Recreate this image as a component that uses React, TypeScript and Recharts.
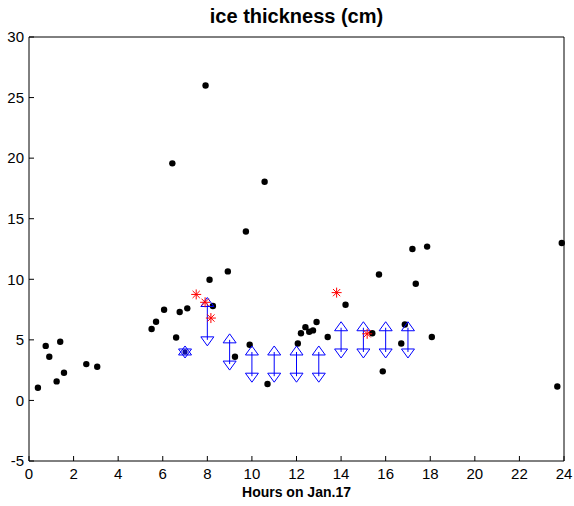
import React from 'react';
import { ScatterChart, Scatter, XAxis, YAxis, ErrorBar } from 'recharts';

// black dots: measured ice thickness
const dotHours = [
  0.4, 0.75, 0.91, 1.24, 1.4, 1.57, 2.57, 3.06, 5.5, 5.7, 6.06, 6.43, 6.6, 6.76,
  7.1, 7.92, 8.1, 8.25, 8.92, 9.24, 9.73, 9.9, 10.57, 10.7, 12.06, 12.2, 12.4,
  12.57, 12.74, 12.9, 13.4, 14.2, 15.4, 15.7, 15.87, 16.7, 16.86, 17.2, 17.35,
  17.86, 18.07, 23.7, 23.9,
];
const dotThickness = [
  1.05, 4.5, 3.6, 1.57, 4.84, 2.29, 3.0, 2.78, 5.9, 6.5, 7.49, 19.57, 5.2, 7.3,
  7.6, 26.0, 9.96, 7.8, 10.65, 3.6, 13.95, 4.6, 18.05, 1.35, 4.7, 5.55, 6.05,
  5.67, 5.78, 6.47, 5.23, 7.9, 5.55, 10.4, 2.4, 4.7, 6.27, 12.5, 9.63, 12.7,
  5.23, 1.15, 13.0,
];

// red asterisks
const starHours = [7.5, 7.9, 8.16, 13.8, 15.17];
const starThickness = [8.75, 8.1, 6.8, 8.9, 5.5];

// blue ranges: upper (triangle up) and lower (triangle down)
const rangeHours = [8, 9, 10, 11, 12, 13, 14, 15, 16, 17];
const rangeTop = [8, 5, 4, 4, 4, 4, 6, 6, 6, 6];
const rangeBottom = [5, 3, 2, 2, 2, 2, 4, 4, 4, 4];

// single blue hexagram
const hexHours = [7];
const hexThickness = [4];

const xTicks = [0, 2, 4, 6, 8, 10, 12, 14, 16, 18, 20, 22, 24];
const yTicks = [-5, 0, 5, 10, 15, 20, 25, 30];

const dots = dotHours.map((x, i) => ({ x, y: dotThickness[i] }));
const stars = starHours.map((x, i) => ({ x, y: starThickness[i] }));
const tops = rangeHours.map((x, i) => ({ x, y: rangeTop[i] }));
const bottoms = rangeHours.map((x, i) => ({
  x,
  y: rangeBottom[i],
  err: [0, rangeTop[i] - rangeBottom[i]],
}));
const hexes = hexHours.map((x, i) => ({ x, y: hexThickness[i] }));

const BLUE = '#0000ff';
const H = 9;
const W = 6.5;

const Dot = (p: any) => <circle cx={p.cx} cy={p.cy} r={3.2} fill="#000" />;

const Asterisk = (p: any) => {
  const { cx, cy } = p;
  const r = 5;
  const d = 3.6;
  return (
    <g stroke="#ff0000" strokeWidth={1}>
      <line x1={cx - r} y1={cy} x2={cx + r} y2={cy} />
      <line x1={cx} y1={cy - r} x2={cx} y2={cy + r} />
      <line x1={cx - d} y1={cy - d} x2={cx + d} y2={cy + d} />
      <line x1={cx - d} y1={cy + d} x2={cx + d} y2={cy - d} />
    </g>
  );
};

const upPath = (cx: number, cy: number) =>
  `M${cx},${cy - (2 * H) / 3} L${cx + W},${cy + H / 3} L${cx - W},${cy + H / 3} Z`;
const downPath = (cx: number, cy: number) =>
  `M${cx},${cy + (2 * H) / 3} L${cx + W},${cy - H / 3} L${cx - W},${cy - H / 3} Z`;

const TriUp = (p: any) => (
  <path d={upPath(p.cx, p.cy)} fill="none" stroke={BLUE} strokeWidth={1} />
);
const TriDown = (p: any) => (
  <path d={downPath(p.cx, p.cy)} fill="none" stroke={BLUE} strokeWidth={1} />
);
const Hexagram = (p: any) => (
  <g>
    <path d={upPath(p.cx, p.cy)} fill="none" stroke={BLUE} strokeWidth={1} />
    <path d={downPath(p.cx, p.cy)} fill="none" stroke={BLUE} strokeWidth={1} />
    <circle cx={p.cx} cy={p.cy} r={2.6} fill="#1010a0" />
  </g>
);

const NoTick = () => <g />;

const tickStyle = { fill: '#000', fontSize: 15 };

export default function App() {
  return (
    <div
      style={{
        position: 'absolute',
        left: 0,
        top: 0,
        width: 574,
        height: 506,
        background: '#fff',
        fontFamily: '"Liberation Sans", Arial, sans-serif',
      }}
    >
      <div
        style={{
          position: 'absolute',
          top: 5,
          left: 29,
          width: 535,
          textAlign: 'center',
          fontWeight: 'bold',
          fontSize: 20,
          color: '#000',
        }}
      >
        ice thickness (cm)
      </div>
      <div
        style={{
          position: 'absolute',
          top: 484,
          left: 29,
          width: 535,
          textAlign: 'center',
          fontWeight: 'bold',
          fontSize: 14,
          color: '#000',
        }}
      >
        Hours on Jan.17
      </div>
      <ScatterChart
        width={574}
        height={506}
        margin={{ top: 0, right: 0, bottom: 0, left: 0 }}
      >
        <XAxis
          type="number"
          dataKey="x"
          domain={[0, 24]}
          ticks={xTicks}
          interval={0}
          height={45}
          tickSize={-5}
          tickMargin={12}
          tick={tickStyle}
          axisLine={{ stroke: '#000' }}
          tickLine={{ stroke: '#000' }}
        />
        <XAxis
          xAxisId="top"
          orientation="top"
          type="number"
          domain={[0, 24]}
          ticks={xTicks}
          interval={0}
          height={37}
          tickSize={-5}
          tick={NoTick}
          axisLine={{ stroke: '#000' }}
          tickLine={{ stroke: '#000' }}
        />
        <YAxis
          type="number"
          dataKey="y"
          domain={[-5, 30]}
          ticks={yTicks}
          interval={0}
          width={29}
          tickSize={-5}
          tickMargin={10}
          tick={tickStyle}
          axisLine={{ stroke: '#000' }}
          tickLine={{ stroke: '#000' }}
        />
        <YAxis
          yAxisId="right"
          orientation="right"
          type="number"
          domain={[-5, 30]}
          ticks={yTicks}
          interval={0}
          width={10}
          tickSize={-5}
          tick={NoTick}
          axisLine={{ stroke: '#000' }}
          tickLine={{ stroke: '#000' }}
        />
        <Scatter data={dots} shape={Dot} isAnimationActive={false} />
        <Scatter data={bottoms} shape={TriDown} isAnimationActive={false}>
          <ErrorBar
            dataKey="err"
            direction="y"
            width={0}
            stroke={BLUE}
            strokeWidth={1}
            isAnimationActive={false}
          />
        </Scatter>
        <Scatter data={tops} shape={TriUp} isAnimationActive={false} />
        <Scatter data={hexes} shape={Hexagram} isAnimationActive={false} />
        <Scatter data={stars} shape={Asterisk} isAnimationActive={false} />
      </ScatterChart>
    </div>
  );
}
